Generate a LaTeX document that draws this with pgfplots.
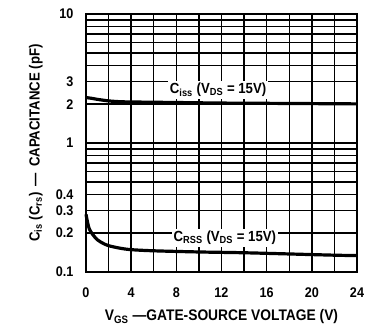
\documentclass[border=0pt]{standalone}
\usepackage{fontspec}
\setmainfont{Liberation Sans}[FakeStretch=0.9]
\usepackage{pgfplots}
\pgfplotsset{compat=1.18}
\begin{document}
\begin{tikzpicture}
\begin{axis}[
  scale only axis,
  width=203.25pt, height=193.5pt,
  ymode=log,
  xmin=0, xmax=24, ymin=0.1, ymax=10,
  xtick={0,4,...,24},
  minor xtick={2,6,...,22},
  ytick={0.1,0.2,0.3,0.4,1,2,3,10},
  yticklabels={0.1,0.2,0.3,0.4,1,2,3,10},
  minor ytick={0.5,0.6,0.7,0.8,0.9,4,5,6,7,8,9},
  major tick length=0pt, minor tick length=0pt,
  grid=both,
  major grid style={black, line width=1.1pt},
  minor grid style={black, line width=1.1pt},
  axis line style={black, line width=1.6pt},
  /pgf/number format/assume math mode=true,
  tick label style={font=\bfseries\fontsize{10.5}{12}\selectfont},
  yticklabel style={xshift=-6pt},
  xticklabel style={yshift=-8pt},
  xlabel={V\textsubscript{GS} —GATE-SOURCE VOLTAGE (V)},
  ylabel={C\textsubscript{is} (C\textsubscript{rs}) \,—\, CAPACITANCE (pF)},
  label style={font=\bfseries\fontsize{11}{12}\selectfont},
  xlabel style={yshift=-2.5pt, font=\bfseries\fontsize{11.5}{12}\selectfont},
  ylabel style={yshift=3pt},
  clip=false,
]
\addplot[black, line width=2.4pt, smooth] coordinates {
  (0,2.25) (0.5,2.22) (1,2.18) (2,2.12) (3,2.09) (4,2.08) (6,2.07)
  (8,2.06) (12,2.04) (16,2.03) (20,2.02) (24,2.01)};
\addplot[black, line width=2.4pt, smooth] coordinates {
  (0,0.28) (0.15,0.24) (0.3,0.215) (0.6,0.195) (1,0.178) (1.5,0.167)
  (2,0.160) (3,0.153) (4,0.149) (6,0.146) (10,0.143) (14,0.141)
  (18,0.138) (22,0.135) (24,0.134)};
\node[fill=white, inner sep=1.5pt, font=\bfseries\fontsize{11}{12}\selectfont]
  at (axis cs:11.7,2.58) {C\textsubscript{iss} (V\textsubscript{DS} = 15V)};
\node[fill=white, inner sep=1.5pt, font=\bfseries\fontsize{11}{12}\selectfont]
  at (axis cs:12.3,0.184) {C\textsubscript{RSS} (V\textsubscript{DS} = 15V)};
\coordinate (sw) at (rel axis cs:0,0);
\coordinate (ne) at (rel axis cs:1,1);
\end{axis}
\pgfresetboundingbox
\path[use as bounding box] ([xshift=-64.5pt,yshift=-39pt]sw) rectangle ([xshift=18pt,yshift=10.5pt]ne);
\end{tikzpicture}
\end{document}
